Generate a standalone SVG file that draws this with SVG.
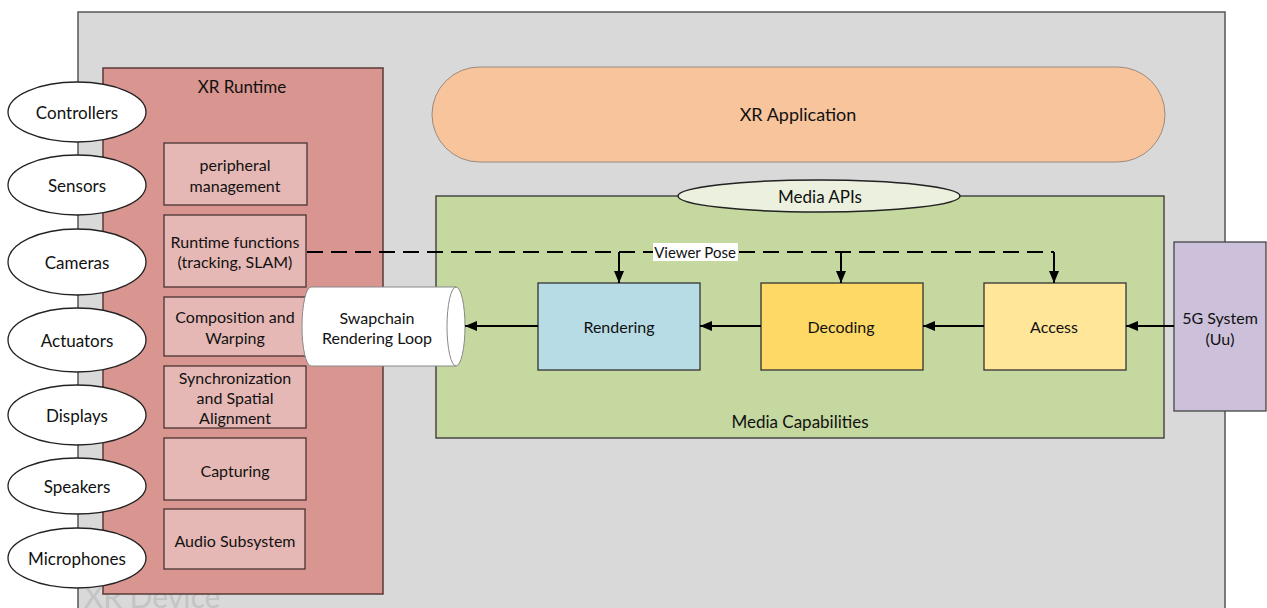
<svg xmlns="http://www.w3.org/2000/svg" width="1267" height="608" viewBox="0 0 1267 608">
<defs>
<style>
text{font-family:Lato,"Open Sans","Liberation Sans",sans-serif;fill:#111;text-anchor:middle;dominant-baseline:central}
.t{font-size:16px}
.ell{fill:#fff;stroke:#222;stroke-width:1.3}
.sub{fill:#e6b8b5;stroke:#4a3434;stroke-width:1.3}
.blk{stroke:#333;stroke-width:1.3}
.arr{stroke:#000;stroke-width:2;fill:none}
</style>
<marker id="ah" viewBox="0 0 12 10" refX="12" refY="5" markerWidth="12" markerHeight="10" markerUnits="userSpaceOnUse" orient="auto">
<path d="M0,0 L12,5 L0,10 Z" fill="#000"/>
</marker>
</defs>
<rect width="1267" height="608" fill="#fff"/>
<g id="xr-device">
<rect x="78" y="12" width="1147" height="620" fill="#d9d9d9" stroke="#555" stroke-width="1.5"/>
<text x="152" y="596" style="font-size:30px;fill:#c4c4c4">XR Device</text>
</g>
<g id="xr-runtime">
<rect x="103" y="68" width="280" height="526" fill="#d9958f" stroke="#5a3a3a" stroke-width="1.5"/>
<text x="242" y="86" style="font-size:17px">XR Runtime</text>
</g>
<g id="peripheral"><rect class="sub" x="164" y="143" width="143" height="62"/><text class="t" x="235" y="164">peripheral</text><text class="t" x="235" y="185">management</text></g>
<g id="runtime-functions"><rect class="sub" x="164" y="215" width="142" height="72"/><text class="t" x="235" y="241">Runtime functions</text><text class="t" x="235" y="261">(tracking, SLAM)</text></g>
<g id="composition"><rect class="sub" x="164" y="297" width="142" height="59"/><text class="t" x="235" y="316">Composition and</text><text class="t" x="235" y="337">Warping</text></g>
<g id="sync"><rect class="sub" x="164" y="366" width="142" height="62"/><text class="t" x="235" y="377">Synchronization</text><text class="t" x="235" y="397">and Spatial</text><text class="t" x="235" y="417">Alignment</text></g>
<g id="capturing"><rect class="sub" x="164" y="438" width="142" height="62"/><text class="t" x="235" y="470">Capturing</text></g>
<g id="audio"><rect class="sub" x="164" y="509" width="141" height="60"/><text class="t" x="235" y="540">Audio Subsystem</text></g>

<g id="controllers"><ellipse class="ell" cx="77" cy="112" rx="69" ry="30"/><text x="77" y="112" style="font-size:17px">Controllers</text></g>
<g id="sensors"><ellipse class="ell" cx="77" cy="185" rx="69" ry="30"/><text x="77" y="185" style="font-size:17px">Sensors</text></g>
<g id="cameras"><ellipse class="ell" cx="77" cy="262" rx="69" ry="33"/><text x="77" y="262" style="font-size:17px">Cameras</text></g>
<g id="actuators"><ellipse class="ell" cx="77" cy="340" rx="69" ry="32"/><text x="77" y="340" style="font-size:17px">Actuators</text></g>
<g id="displays"><ellipse class="ell" cx="77" cy="415" rx="69" ry="30"/><text x="77" y="415" style="font-size:17px">Displays</text></g>
<g id="speakers"><ellipse class="ell" cx="77" cy="486" rx="69" ry="28"/><text x="77" y="486" style="font-size:17px">Speakers</text></g>
<g id="microphones"><ellipse class="ell" cx="77" cy="558" rx="69" ry="30"/><text x="77" y="558" style="font-size:17px">Microphones</text></g>

<g id="xr-application">
<rect x="432" y="67" width="733" height="95" rx="47.5" ry="47.5" fill="#f8c49c" stroke="#9a8a80" stroke-width="1"/>
<text x="798" y="114" style="font-size:18px">XR Application</text>
</g>
<g id="media-capabilities">
<rect x="436" y="196" width="728" height="242" fill="#c5d8a0" stroke="#333" stroke-width="1.3"/>
<text x="800" y="421" style="font-size:17px">Media Capabilities</text>
</g>
<g id="media-apis">
<ellipse cx="819" cy="196" rx="141" ry="16" fill="#ebf1de" stroke="#222" stroke-width="1.5"/>
<text x="820" y="196" style="font-size:17px">Media APIs</text>
</g>
<g id="swapchain">
<path d="M311,287 L456,287 A9,39.5 0 0 1 456,366 L311,366 A9,39.5 0 0 1 311,287 Z" fill="#fff" stroke="#888" stroke-width="1"/>
<path d="M456,287 A9,39.5 0 0 0 456,366" fill="none" stroke="#888" stroke-width="1"/>
<text class="t" x="377" y="317">Swapchain</text>
<text class="t" x="377" y="337">Rendering Loop</text>
</g>
<g id="rendering"><rect class="blk" x="538" y="283" width="162" height="87" fill="#b7dce6"/><text class="t" x="619" y="326">Rendering</text></g>
<g id="decoding"><rect class="blk" x="761" y="283" width="162" height="87" fill="#ffd966"/><text class="t" x="841" y="326">Decoding</text></g>
<g id="access"><rect class="blk" x="984" y="283" width="142" height="87" fill="#ffe699"/><text class="t" x="1054" y="326">Access</text></g>
<g id="fiveg"><rect x="1174" y="242" width="92" height="169" fill="#ccc0da" stroke="#444" stroke-width="1.3"/><text class="t" x="1220" y="317">5G System</text><text class="t" x="1220" y="338">(Uu)</text></g>

<g id="connectors">
<path d="M307,252 H1054" stroke="#000" stroke-width="2" fill="none" stroke-dasharray="16 8"/>
<path class="arr" d="M619,252 V283" marker-end="url(#ah)"/>
<path class="arr" d="M841,252 V283" marker-end="url(#ah)"/>
<path class="arr" d="M1054,252 V283" marker-end="url(#ah)"/>
<rect x="653" y="243" width="85" height="18" fill="#fff"/>
<text x="695" y="252" style="font-size:15px">Viewer Pose</text>
<path class="arr" d="M1174,326 H1126" marker-end="url(#ah)"/>
<path class="arr" d="M984,326 H923" marker-end="url(#ah)"/>
<path class="arr" d="M761,326 H700" marker-end="url(#ah)"/>
<path class="arr" d="M538,326 H465" marker-end="url(#ah)"/>
</g>
</svg>
